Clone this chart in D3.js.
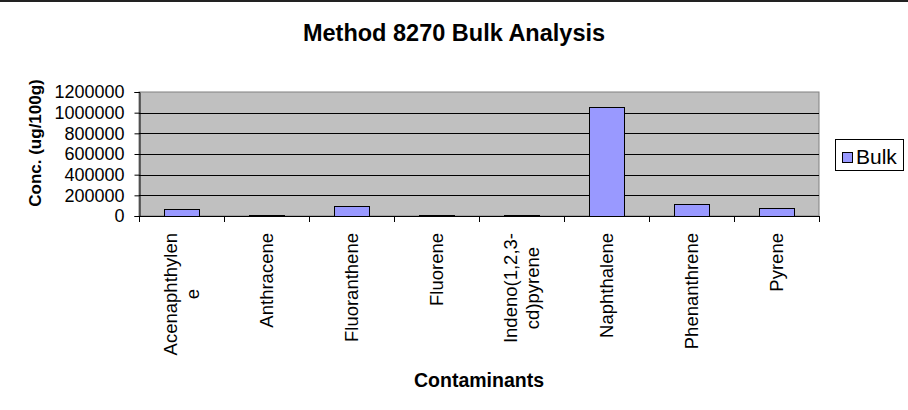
<!DOCTYPE html>
<html lang="en">
<head>
<meta charset="UTF-8">
<title>Method 8270 Bulk Analysis</title>
<script src="https://cdn.jsdelivr.net/npm/d3@7/dist/d3.min.js"></script>
<style>
  body { margin: 0; background: #fff; }
  text { font-family: "Liberation Sans", Arial, sans-serif; }
</style>
</head>
<body>
<script>
// data
let categories = ["Acenaphthylene", "Anthracene", "Fluoranthene", "Fluorene",
    "Indeno(1,2,3-cd)pyrene", "Naphthalene", "Phenanthrene", "Pyrene"]
let tickLines = [["Acenaphthylen", "e"], ["Anthracene"], ["Fluoranthene"], ["Fluorene"],
    ["Indeno(1,2,3-", "cd)pyrene"], ["Naphthalene"], ["Phenanthrene"], ["Pyrene"]]
let bulk = [65000, 12000, 100000, 12000, 10000, 1055000, 113000, 80000]
let yTicks = [0, 200000, 400000, 600000, 800000, 1000000, 1200000]
let seriesName = "Bulk"

let width = 908, height = 410
let plot = { left: 139, right: 819, top: 92, bottom: 216 }

let svg = d3.select("body").append("svg")
    .attr("width", width)
    .attr("height", height)

// dark rule along the top edge
svg.append("rect").attr("x", 0).attr("y", 0).attr("width", width).attr("height", 2).attr("fill", "#222")

let x = d3.scaleBand()
    .domain(categories)
    .range([plot.left, plot.right])
    .paddingInner(0)
let y = d3.scaleLinear()
    .domain([0, 1200000])
    .range([plot.bottom, plot.top])

// plot area
svg.append("rect")
    .attr("x", plot.left).attr("y", plot.top)
    .attr("width", plot.right - plot.left).attr("height", plot.bottom - plot.top)
    .attr("fill", "#c0c0c0").attr("stroke", "#808080")

// gridlines
svg.append("g").selectAll("line")
    .data(yTicks.slice(1, -1))
    .join("line")
    .attr("x1", plot.left).attr("x2", plot.right)
    .attr("y1", d => Math.round(y(d)) + 0.5).attr("y2", d => Math.round(y(d)) + 0.5)
    .attr("stroke", "#000")

// bars
let barW = 35
svg.append("g").selectAll("rect")
    .data(bulk)
    .join("rect")
    .attr("x", (d, i) => Math.round(x(categories[i]) + x.bandwidth() / 2 - barW / 2) + 0.5)
    .attr("y", d => Math.round(y(d)) + 0.5)
    .attr("width", barW)
    .attr("height", d => Math.max(0, Math.round(y(0)) - Math.round(y(d))))
    .attr("fill", "#9999ff")
    .attr("stroke", "#000")

// y axis
let yAxis = svg.append("g")
    .attr("transform", `translate(${plot.left + 0.5},0)`)
    .call(d3.axisLeft(y).tickValues(yTicks).tickSize(5).tickPadding(10).tickFormat(d3.format("d")))
yAxis.select(".domain").attr("stroke", "#000")
yAxis.selectAll("text").attr("font-size", 18).attr("fill", "#000")
    .style("font-family", '"Liberation Sans", Arial, sans-serif')

// x axis: ticks on category boundaries
let bounds = categories.map(c => x(c)).concat([plot.right])
svg.append("line")
    .attr("x1", plot.left).attr("x2", plot.right)
    .attr("y1", plot.bottom + 0.5).attr("y2", plot.bottom + 0.5)
    .attr("stroke", "#000")
svg.append("g").selectAll("line")
    .data(bounds)
    .join("line")
    .attr("x1", d => Math.round(d) + 0.5).attr("x2", d => Math.round(d) + 0.5)
    .attr("y1", plot.bottom).attr("y2", plot.bottom + 6)
    .attr("stroke", "#000")

// rotated category labels
let labelTop = 233
let fs = 18.5
let lg = svg.append("g").selectAll("g")
    .data(tickLines)
    .join("g")
    .attr("transform", (d, i) => `translate(${x(categories[i]) + x.bandwidth() / 2},${labelTop}) rotate(-90)`)
lg.each(function (lines) {
    let g = d3.select(this)
    let t = g.selectAll("text").data(lines).join("text")
        .attr("font-size", fs)
        .attr("text-anchor", "middle")
        .attr("dy", (d, j) => ((j - (lines.length - 1) / 2) * 1.2 + 0.35) + "em")
        .text(d => d)
    let maxW = d3.max(t.nodes(), n => n.getComputedTextLength())
    t.attr("x", -maxW / 2)
})

// titles
svg.append("text")
    .attr("x", 454).attr("y", 41)
    .attr("text-anchor", "middle")
    .attr("font-size", 23.5).attr("font-weight", "bold")
    .text("Method 8270 Bulk Analysis")
svg.append("text")
    .attr("x", (plot.left + plot.right) / 2).attr("y", 387)
    .attr("text-anchor", "middle")
    .attr("font-size", 19.5).attr("font-weight", "bold")
    .text("Contaminants")
svg.append("text")
    .attr("transform", "translate(41,143) rotate(-90)")
    .attr("text-anchor", "middle")
    .attr("font-size", 17).attr("font-weight", "bold")
    .text("Conc. (ug/100g)")

// legend
let legend = svg.append("g")
legend.append("rect")
    .attr("x", 835.5).attr("y", 139.5).attr("width", 68).attr("height", 31)
    .attr("fill", "#fff").attr("stroke", "#000")
legend.append("rect")
    .attr("x", 842.5).attr("y", 152.5).attr("width", 10).attr("height", 10)
    .attr("fill", "#9999ff").attr("stroke", "#000")
legend.append("text")
    .attr("x", 856).attr("y", 164)
    .attr("font-size", 21)
    .text(seriesName)
</script>
</body>
</html>
